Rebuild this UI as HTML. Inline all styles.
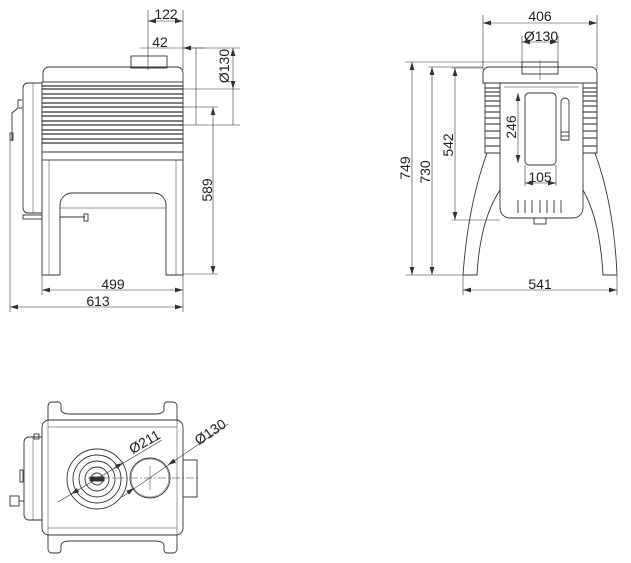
<!DOCTYPE html>
<html><head><style>html,body{margin:0;padding:0;background:#fff}svg{display:block}text{font-family:"Liberation Sans",sans-serif;font-size:14px;fill:#222;text-anchor:middle}</style></head>
<body>
<svg width="631" height="563" viewBox="0 0 631 563" xmlns="http://www.w3.org/2000/svg">
<defs><marker id="a" viewBox="0 0 10 6" refX="10" refY="3" markerWidth="8" markerHeight="5" markerUnits="userSpaceOnUse" orient="auto-start-reverse"><path d="M0,0L10,3L0,6z" fill="#333"/></marker></defs>
<g fill="none" stroke="#333" stroke-width="0.9">
<!-- SIDE VIEW -->
<rect x="131" y="56" width="36" height="12"/>
<path d="M43,82V73a6,6 0 0 1 6,-6H177a6,6 0 0 1 6,6V82"/>
<rect x="42" y="82" width="141" height="78"/>
<g stroke-width="1.2">
<line x1="42" y1="86" x2="183" y2="86"/><line x1="42" y1="89" x2="183" y2="89"/><line x1="42" y1="94" x2="183" y2="94"/><line x1="42" y1="98" x2="183" y2="98"/><line x1="42" y1="103" x2="183" y2="103"/><line x1="42" y1="107" x2="183" y2="107"/><line x1="42" y1="112" x2="183" y2="112"/><line x1="42" y1="116" x2="183" y2="116"/><line x1="42" y1="121" x2="183" y2="121"/><line x1="42" y1="125" x2="183" y2="125"/><line x1="42" y1="130" x2="183" y2="130"/><line x1="42" y1="134" x2="183" y2="134"/><line x1="42" y1="139" x2="183" y2="139"/><line x1="42" y1="143" x2="183" y2="143"/>
</g>
<line x1="42" y1="152" x2="183" y2="152"/>
<path d="M42,160 V275 H60 V205 a12,12 0 0 1 12,-12 H154 a12,12 0 0 1 12,12 V275 H183 V160"/>
<line x1="49" y1="160" x2="49" y2="275" stroke-width="0.5"/><line x1="176" y1="160" x2="176" y2="275" stroke-width="0.5"/>
<line x1="60" y1="208" x2="166" y2="208" stroke-width="0.5"/>
<path d="M42,83 H28 a5,5 0 0 0 -5,5 V208 a5,5 0 0 0 5,5 H42"/>
<line x1="33" y1="83" x2="33" y2="213" stroke-width="0.5"/>
<path d="M22,100 h-4 v8 l-6,5 v28 M22,108 h-3"/>
<rect x="10" y="133" width="3" height="7"/>
<rect x="23" y="215" width="19" height="4"/><line x1="60" y1="217" x2="85" y2="217"/><rect x="84" y="214" width="4" height="7"/>
<!-- side dims -->
<g stroke-width="0.6">
<line x1="148" y1="10" x2="148" y2="70"/><line x1="183" y1="10" x2="183" y2="70"/>
<line x1="148" y1="21" x2="183" y2="21" marker-start="url(#a)" marker-end="url(#a)"/>
<line x1="140" y1="48" x2="183" y2="48"/><line x1="205" y1="48" x2="183" y2="48" marker-end="url(#a)"/>
<line x1="183" y1="48" x2="240" y2="48"/><line x1="183" y1="89" x2="240" y2="89"/><line x1="183" y1="125" x2="240" y2="125"/>
<line x1="196" y1="48" x2="196" y2="125"/>
<line x1="233" y1="48" x2="233" y2="89" marker-start="url(#a)" marker-end="url(#a)"/>
<line x1="233" y1="89" x2="233" y2="125"/>
<line x1="183" y1="107" x2="218" y2="107"/><line x1="183" y1="274" x2="218" y2="274"/>
<line x1="213" y1="107" x2="213" y2="274" marker-start="url(#a)" marker-end="url(#a)"/>
<line x1="42" y1="275" x2="42" y2="295"/><line x1="183" y1="275" x2="183" y2="312"/>
<line x1="42" y1="290" x2="183" y2="290" marker-start="url(#a)" marker-end="url(#a)"/>
<line x1="10" y1="140" x2="10" y2="312"/>
<line x1="10" y1="307" x2="183" y2="307" marker-start="url(#a)" marker-end="url(#a)"/>
</g>

<!-- FRONT VIEW -->
<rect x="522" y="62" width="36" height="12"/>
<line x1="540" y1="60" x2="540" y2="80" stroke-width="0.5"/>
<path d="M483,83V73a6,6 0 0 1 6,-6H591a6,6 0 0 1 6,6V83Z"/>
<path d="M500,83 V208 a10,10 0 0 0 10,10 H573 a10,10 0 0 0 10,-10 V83"/>
<line x1="504" y1="87" x2="579" y2="87" stroke-width="0.5"/>
<path d="M485,83 V153 H500 M597,83 V153 H583"/>
<g stroke-width="1.1">
<line x1="485" y1="88" x2="500" y2="88"/><line x1="485" y1="92" x2="500" y2="92"/><line x1="485" y1="96" x2="500" y2="96"/><line x1="485" y1="101" x2="500" y2="101"/><line x1="485" y1="106" x2="500" y2="106"/><line x1="485" y1="112" x2="500" y2="112"/><line x1="485" y1="118" x2="500" y2="118"/><line x1="485" y1="124" x2="500" y2="124"/><line x1="485" y1="131" x2="500" y2="131"/><line x1="485" y1="138" x2="500" y2="138"/><line x1="485" y1="146" x2="500" y2="146"/>
<line x1="583" y1="88" x2="597" y2="88"/><line x1="583" y1="92" x2="597" y2="92"/><line x1="583" y1="96" x2="597" y2="96"/><line x1="583" y1="101" x2="597" y2="101"/><line x1="583" y1="106" x2="597" y2="106"/><line x1="583" y1="112" x2="597" y2="112"/><line x1="583" y1="118" x2="597" y2="118"/><line x1="583" y1="124" x2="597" y2="124"/><line x1="583" y1="131" x2="597" y2="131"/><line x1="583" y1="138" x2="597" y2="138"/><line x1="583" y1="146" x2="597" y2="146"/>
</g>
<path d="M487,153 Q468,205 463,275 H477 Q480,220 500,190"/>
<path d="M595,153 Q614,205 617,275 H603 Q600,220 583,190"/>
<rect x="525" y="93" width="31" height="72" rx="4"/>
<path d="M561,140 V102 a4,4 0 0 1 8,0 V140Z"/><line x1="561" y1="132" x2="569" y2="132"/><line x1="561" y1="136" x2="569" y2="136"/>
<path d="M518,200v13M525,200v13M532,200v13M540,200v13M547,200v13M554,200v13M561,200v13"/>
<rect x="534" y="218" width="12" height="6"/>
<g stroke-width="0.6">
<line x1="483" y1="15" x2="483" y2="70"/><line x1="597" y1="15" x2="597" y2="70"/>
<line x1="483" y1="23" x2="597" y2="23" marker-start="url(#a)" marker-end="url(#a)"/>
<line x1="522" y1="36" x2="522" y2="62"/><line x1="558" y1="36" x2="558" y2="62"/>
<line x1="522" y1="42" x2="558" y2="42" marker-start="url(#a)" marker-end="url(#a)"/>
<line x1="405" y1="62" x2="522" y2="62"/><line x1="428" y1="67" x2="483" y2="67"/><line x1="452" y1="68" x2="483" y2="68"/>
<line x1="405" y1="275" x2="470" y2="275"/><line x1="452" y1="220" x2="500" y2="220"/>
<line x1="412" y1="62" x2="412" y2="275" marker-start="url(#a)" marker-end="url(#a)"/>
<line x1="432" y1="67" x2="432" y2="275" marker-start="url(#a)" marker-end="url(#a)"/>
<line x1="455" y1="68" x2="455" y2="220" marker-start="url(#a)" marker-end="url(#a)"/>
<line x1="518" y1="93" x2="518" y2="163" marker-start="url(#a)" marker-end="url(#a)"/>
<line x1="525" y1="165" x2="525" y2="186"/><line x1="556" y1="165" x2="556" y2="186"/>
<line x1="525" y1="183" x2="556" y2="183" marker-start="url(#a)" marker-end="url(#a)"/>
<line x1="463" y1="275" x2="463" y2="295"/><line x1="617" y1="275" x2="617" y2="295"/>
<line x1="463" y1="290" x2="617" y2="290" marker-start="url(#a)" marker-end="url(#a)"/>
</g>

<!-- TOP VIEW -->
<path d="M48,420 V406 a4,4 0 0 1 4,-4 H58 a3,3 0 0 1 3,3 V410 Q62,414 70,414 H155 Q163,414 164,410 V405 a3,3 0 0 1 3,-3 H173 a4,4 0 0 1 4,4 V420"/>
<path d="M48,535 V549 a4,4 0 0 0 4,4 H58 a3,3 0 0 0 3,-3 V545 Q62,541 70,541 H155 Q163,541 164,545 V550 a3,3 0 0 0 3,3 H173 a4,4 0 0 0 4,-4 V535"/>
<rect x="42" y="420" width="141" height="115" rx="7"/>
<line x1="48" y1="427" x2="177" y2="427" stroke-width="0.5"/><line x1="48" y1="528" x2="177" y2="528" stroke-width="0.5"/>
<line x1="48" y1="420" x2="48" y2="535" stroke-width="0.5"/><line x1="177" y1="420" x2="177" y2="535" stroke-width="0.5"/>
<path d="M42,437 H29 a5,5 0 0 0 -5,5 V515 a5,5 0 0 0 5,5 H42"/>
<line x1="33" y1="437" x2="33" y2="520" stroke-width="0.5"/>
<rect x="34" y="434" width="5" height="5"/>
<rect x="20" y="470" width="3" height="12"/>
<rect x="10" y="496" width="9" height="10"/><line x1="19" y1="501" x2="24" y2="501"/>
<circle cx="97" cy="479" r="30"/><circle cx="97" cy="479" r="24"/><circle cx="97" cy="479" r="18"/><circle cx="97" cy="479" r="12"/><circle cx="97" cy="479" r="6"/>
<rect x="90" y="477" width="14" height="4" fill="#333"/>
<circle cx="150" cy="478" r="20"/><circle cx="150" cy="478" r="19" stroke-width="0.4"/>
<rect x="183" y="460" width="14" height="37"/>
<line x1="88" y1="478" x2="200" y2="478" stroke-width="0.5" stroke-dasharray="8,2,2,2"/>
<line x1="150" y1="466" x2="150" y2="490" stroke-width="0.5"/>
<g stroke-width="0.6">
<line x1="58" y1="502" x2="162" y2="440"/>
<line x1="80" y1="489" x2="71" y2="494" marker-end="url(#a)"/>
<line x1="114" y1="468" x2="123" y2="463" marker-end="url(#a)"/>
<line x1="122" y1="497" x2="228" y2="424"/>
<line x1="130" y1="491" x2="134" y2="488" marker-end="url(#a)"/>
<line x1="177" y1="459" x2="168" y2="465" marker-end="url(#a)"/>
</g>
</g>
<text x="166" y="19">122</text>
<text x="160" y="47">42</text>
<text transform="translate(229,66) rotate(-90)">Ø130</text>
<text transform="translate(212,190) rotate(-90)">589</text>
<text x="113" y="289">499</text>
<text x="98" y="306">613</text>
<text x="540" y="21">406</text>
<text x="541" y="41">Ø130</text>
<text transform="translate(410,168) rotate(-90)">749</text>
<text transform="translate(430,172) rotate(-90)">730</text>
<text transform="translate(453,145) rotate(-90)">542</text>
<text transform="translate(516,127) rotate(-90)">246</text>
<text x="540" y="182">105</text>
<text x="540" y="289">541</text>
<text transform="translate(147,446) rotate(-30)">Ø211</text>
<text transform="translate(213,436) rotate(-34)">Ø130</text>
</svg>
</body></html>
